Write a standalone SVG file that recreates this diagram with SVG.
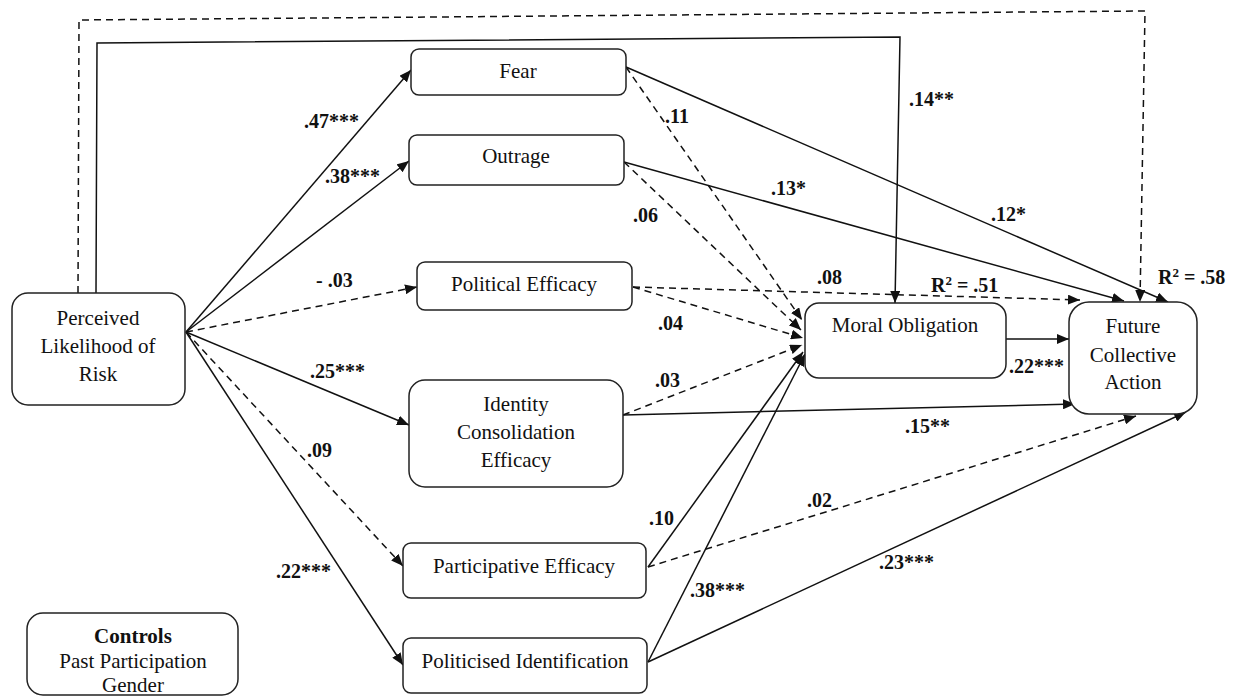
<svg xmlns="http://www.w3.org/2000/svg" width="1236" height="697" viewBox="0 0 1236 697" font-family="Liberation Serif, Times New Roman, serif">
<style>
.box{fill:#fff;stroke:#222;stroke-width:1.5}
.t{font-size:21px;fill:#111;text-anchor:middle}
.lb{font-size:20px;font-weight:bold;fill:#111}
.e{fill:none;stroke:#111;stroke-width:1.5}
.d{stroke-dasharray:7,5}
.a{marker-end:url(#ah)}
</style>
<defs>
<marker id="ah" viewBox="0 0 12 10" refX="12" refY="5" markerWidth="12" markerHeight="10" markerUnits="userSpaceOnUse" orient="auto">
<path d="M0,0 L12,5 L0,10 z" fill="#111" stroke="none"/>
</marker>
</defs>
<rect width="1236" height="697" fill="#fff"/>
<g id="connectors">
<path class="e d a" d="M78,293 L79,20 L1145,11 L1140,302"/>
<path class="e a" d="M96,293 L97,43 L900,37 L895,303"/>
<path class="e a" d="M186,332 L411,70"/>
<path class="e a" d="M186,332 L409,161"/>
<path class="e d a" d="M186,332 L417,287"/>
<path class="e a" d="M186,332 L409,425"/>
<path class="e d a" d="M186,332 L403,566"/>
<path class="e a" d="M186,332 L403,665"/>
<path class="e a" d="M626,67 L1168,302"/>
<path class="e d a" d="M626,67 L802,320"/>
<path class="e d a" d="M624,162 L801,330"/>
<path class="e a" d="M624,162 L1124,301"/>
<path class="e d a" d="M633,287 L803,338"/>
<path class="e d a" d="M633,287 L1080,300"/>
<path class="e d a" d="M623,415 L802,345"/>
<path class="e a" d="M623,415 L1075,404"/>
<path class="e a" d="M648,567 L803,352"/>
<path class="e d a" d="M648,567 L1136,416"/>
<path class="e a" d="M648,662 L805,354"/>
<path class="e a" d="M648,662 L1186,412"/>
<path class="e a" d="M1006,339 L1069,339"/>
</g>
<g id="labels" font-family="Liberation Serif, serif">
<text class="lb" x="304" y="128">.47***</text>
<text class="lb" x="325" y="183">.38***</text>
<text class="lb" x="316" y="287">- .03</text>
<text class="lb" x="310" y="378">.25***</text>
<text class="lb" x="307" y="457">.09</text>
<text class="lb" x="276" y="578">.22***</text>
<text class="lb" x="665" y="123">.11</text>
<text class="lb" x="633" y="222">.06</text>
<text class="lb" x="771" y="195">.13*</text>
<text class="lb" x="909" y="106">.14**</text>
<text class="lb" x="991" y="221">.12*</text>
<text class="lb" x="817" y="284">.08</text>
<text class="lb" x="931" y="292">R<tspan font-size="13" dy="-7">2</tspan><tspan dy="7"> = .51</tspan></text>
<text class="lb" x="1158" y="284">R<tspan font-size="13" dy="-7">2</tspan><tspan dy="7"> = .58</tspan></text>
<text class="lb" x="658" y="330">.04</text>
<text class="lb" x="655" y="387">.03</text>
<text class="lb" x="1009" y="373">.22***</text>
<text class="lb" x="905" y="433">.15**</text>
<text class="lb" x="649" y="525">.10</text>
<text class="lb" x="690" y="597">.38***</text>
<text class="lb" x="807" y="507">.02</text>
<text class="lb" x="879" y="569">.23***</text>
</g>
<g id="risk">
<rect class="box" x="12" y="293" width="173" height="112" rx="16"/>
<text class="t" x="98" y="325">Perceived</text>
<text class="t" x="98" y="353">Likelihood of</text>
<text class="t" x="98" y="381">Risk</text>
</g>
<g id="fear">
<rect class="box" x="411" y="49" width="215" height="46" rx="8"/>
<text class="t" x="518" y="78">Fear</text>
</g>
<g id="outrage">
<rect class="box" x="409" y="135" width="215" height="50" rx="8"/>
<text class="t" x="516" y="163">Outrage</text>
</g>
<g id="political-efficacy">
<rect class="box" x="417" y="262" width="215" height="48" rx="8"/>
<text class="t" x="524" y="291">Political Efficacy</text>
</g>
<g id="identity">
<rect class="box" x="409" y="380" width="214" height="107" rx="16"/>
<text class="t" x="516" y="411">Identity</text>
<text class="t" x="516" y="439">Consolidation</text>
<text class="t" x="516" y="467">Efficacy</text>
</g>
<g id="participative">
<rect class="box" x="403" y="543" width="243" height="55" rx="8"/>
<text class="t" x="524" y="573">Participative Efficacy</text>
</g>
<g id="politicised">
<rect class="box" x="403" y="638" width="244" height="55" rx="8"/>
<text class="t" x="525" y="668">Politicised Identification</text>
</g>
<g id="moral">
<rect class="box" x="805" y="303" width="201" height="75" rx="14"/>
<text class="t" x="905" y="332">Moral Obligation</text>
</g>
<g id="future">
<rect class="box" x="1069" y="302" width="128" height="112" rx="20"/>
<text class="t" x="1133" y="333">Future</text>
<text class="t" x="1133" y="362">Collective</text>
<text class="t" x="1133" y="389">Action</text>
</g>
<g id="controls">
<rect class="box" x="27" y="613" width="211" height="82" rx="16"/>
<text class="t" x="133" y="643" font-weight="bold">Controls</text>
<text class="t" x="133" y="668">Past Participation</text>
<text class="t" x="133" y="692">Gender</text>
</g>
</svg>
